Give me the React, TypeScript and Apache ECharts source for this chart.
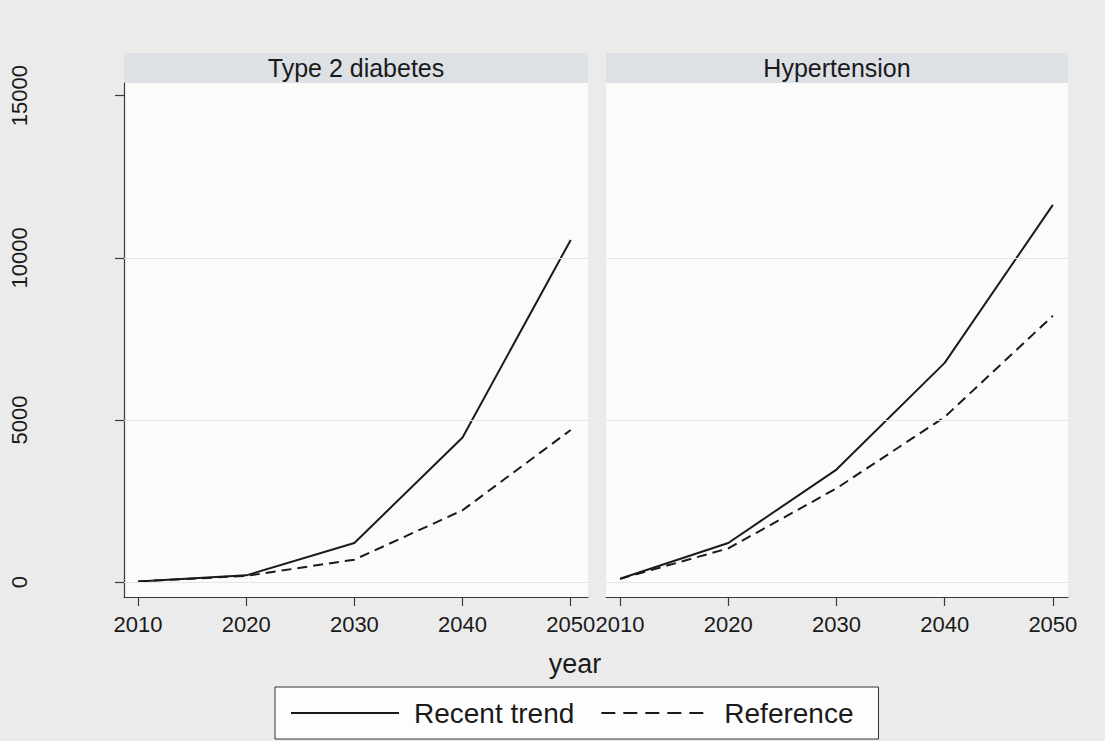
import { useEffect, useRef } from "react";
import * as echarts from "echarts";

// Projected cases by year, two conditions, two scenarios
const years = [2010, 2020, 2030, 2040, 2050];
const panelTitles = ["Type 2 diabetes", "Hypertension"];
const seriesNames = ["Recent trend", "Reference"];
const diabetesRecent = [20, 207, 1205, 4460, 10550];
const diabetesReference = [20, 190, 692, 2214, 4690];
const hypertensionRecent = [105, 1205, 3470, 6760, 11630];
const hypertensionReference = [100, 1040, 2890, 5090, 8210];
const yTicks = [0, 5000, 10000, 15000];
const yGridValues = [0, 5000, 10000];
const xTitle = "year";

const FONT = "'Liberation Sans', Arial, Helvetica, sans-serif";
const INK = "#1a1a1a";
const AXIS = "#3a3a3a";

const pairs = (vals: number[]) => years.map((y, i) => [y, vals[i]]);
const plain = (v: number) => String(v);

function makeX(gridIndex: number, max: number) {
  return {
    type: "value" as const,
    gridIndex,
    min: 2008.7,
    max,
    axisLine: { show: true, onZero: false, lineStyle: { color: AXIS, width: 1.2 } },
    axisTick: { show: true, customValues: years, length: 9, lineStyle: { color: AXIS, width: 1.2 } },
    axisLabel: { customValues: years, formatter: plain, fontSize: 22, color: INK, fontFamily: FONT, margin: 16 },
    splitLine: { show: false },
  };
}

function gridMarks() {
  return {
    silent: true,
    symbol: ["none", "none"],
    label: { show: false },
    lineStyle: { color: "#e3e7eb", type: "solid" as const, width: 1 },
    data: yGridValues.map((v) => ({ yAxis: v })),
  };
}

function makeLine(name: string, vals: number[], idx: number, dashed: boolean, marks: boolean) {
  return {
    type: "line" as const,
    name,
    xAxisIndex: idx,
    yAxisIndex: idx,
    data: pairs(vals),
    symbol: "none",
    showSymbol: false,
    lineStyle: { color: INK, width: 2, type: dashed ? [10, 6] : "solid" },
    itemStyle: { color: INK },
    z: 3,
    ...(marks ? { markLine: gridMarks() } : {}),
  };
}

export default function App() {
  const ref = useRef<HTMLDivElement>(null);

  useEffect(() => {
    if (!ref.current) return;
    const chart = echarts.init(ref.current, null, { renderer: "svg" });
    const yBase = {
      type: "value" as const,
      min: -460,
      max: 15390,
      splitLine: { show: false },
    };
    chart.setOption({
      animation: false,
      backgroundColor: "#ebebeb",
      grid: [
        { left: 124, top: 83, width: 464, height: 514, show: true, backgroundColor: "#fbfbfb", borderWidth: 0 },
        { left: 606, top: 83, width: 462, height: 514, show: true, backgroundColor: "#fbfbfb", borderWidth: 0 },
      ],
      xAxis: [makeX(0, 2051.6), makeX(1, 2051.4)],
      yAxis: [
        {
          ...yBase,
          gridIndex: 0,
          axisLine: { show: true, onZero: false, lineStyle: { color: AXIS, width: 1.2 } },
          axisTick: { show: true, customValues: yTicks, length: 9, lineStyle: { color: AXIS, width: 1.2 } },
          axisLabel: {
            customValues: yTicks,
            formatter: plain,
            rotate: 90,
            fontSize: 22,
            color: INK,
            fontFamily: FONT,
            margin: 94,
          },
        },
        { ...yBase, gridIndex: 1, show: false },
      ],
      legend: {
        data: [
          { name: seriesNames[0] },
          { name: seriesNames[1], lineStyle: { type: [14, 8] } },
        ],
        left: 275,
        top: 687,
        orient: "horizontal",
        itemWidth: 108,
        itemHeight: 14,
        itemGap: 26,
        padding: [12, 25, 12, 15],
        borderColor: "#333",
        borderWidth: 1,
        borderRadius: 0,
        backgroundColor: "#fdfdfd",
        selectedMode: false,
        itemStyle: { opacity: 0 },
        lineStyle: { width: 2 },
        textStyle: { fontSize: 28, color: INK, fontFamily: FONT, padding: [0, 0, 0, 10] },
      },
      graphic: [
        { type: "rect", shape: { x: 124, y: 53, width: 464, height: 30 }, style: { fill: "#dde1e6" } },
        { type: "rect", shape: { x: 606, y: 53, width: 462, height: 30 }, style: { fill: "#dde1e6" } },
        {
          type: "text",
          x: 356,
          y: 68,
          style: { text: panelTitles[0], fontSize: 25, fontFamily: FONT, fill: INK, align: "center", verticalAlign: "middle" },
        },
        {
          type: "text",
          x: 837,
          y: 68,
          style: { text: panelTitles[1], fontSize: 25, fontFamily: FONT, fill: INK, align: "center", verticalAlign: "middle" },
        },
        {
          type: "text",
          x: 575,
          y: 664,
          style: { text: xTitle, fontSize: 27, fontFamily: FONT, fill: INK, align: "center", verticalAlign: "middle" },
        },
      ],
      series: [
        makeLine(seriesNames[0], diabetesRecent, 0, false, true),
        makeLine(seriesNames[1], diabetesReference, 0, true, false),
        makeLine(seriesNames[0], hypertensionRecent, 1, false, true),
        makeLine(seriesNames[1], hypertensionReference, 1, true, false),
      ],
    });
    return () => chart.dispose();
  }, []);

  return (
    <div
      ref={ref}
      style={{ position: "absolute", left: 0, top: 0, width: 1105, height: 741 }}
    />
  );
}
